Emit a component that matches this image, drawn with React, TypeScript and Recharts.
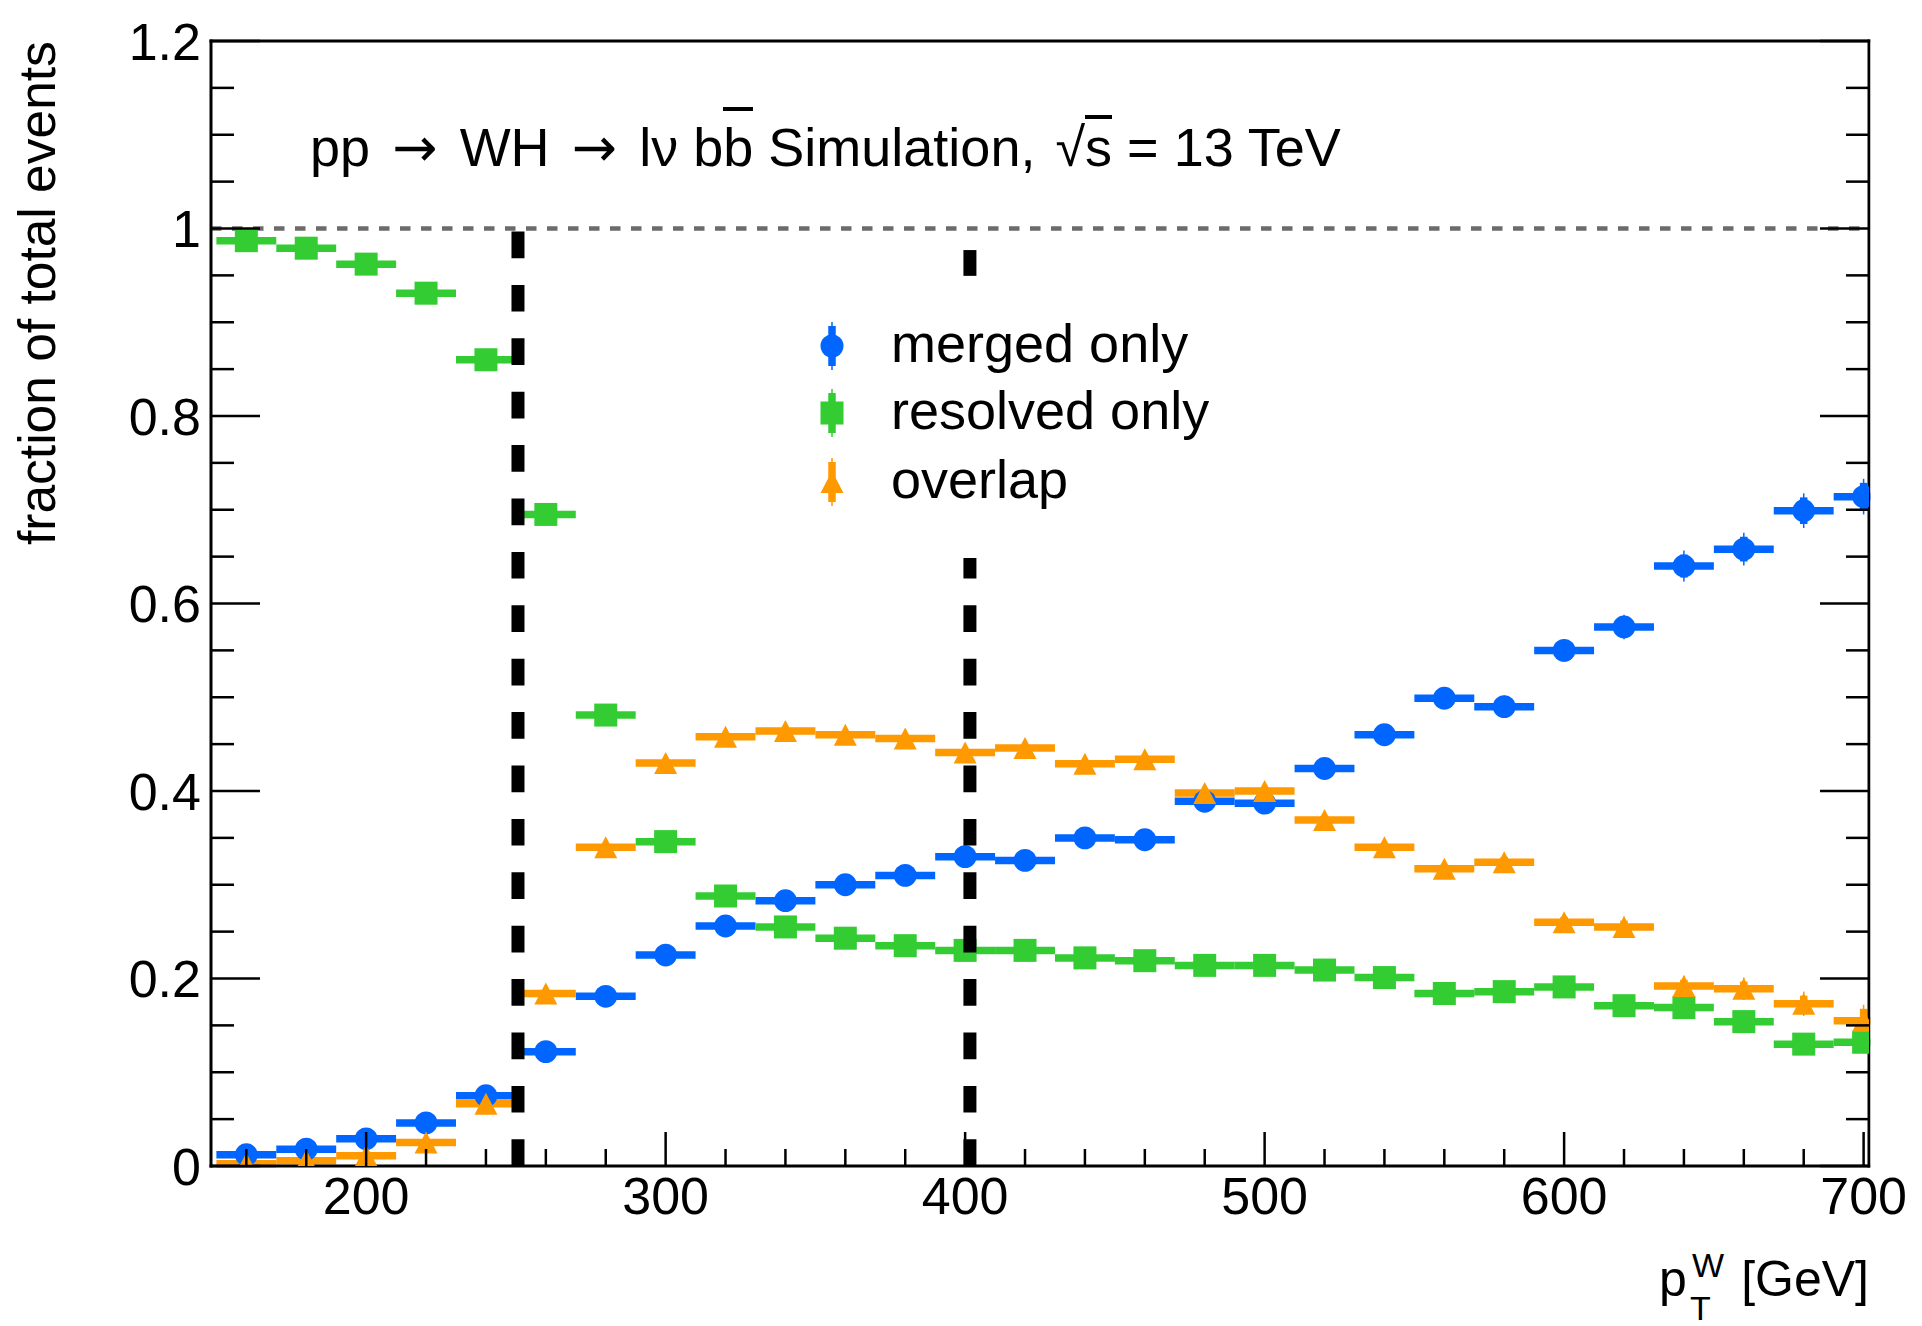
import React from 'react'
import {
  ComposedChart,
  Scatter,
  XAxis,
  YAxis,
  ErrorBar,
  ReferenceLine,
} from 'recharts'

// pT(W) bin centres, 20 GeV bins
const PT_BINS = [160, 180, 200, 220, 240, 260, 280, 300, 320, 340, 360, 380, 400, 420, 440, 460, 480, 500, 520, 540, 560, 580, 600, 620, 640, 660, 680, 700]
const BIN_HALF_WIDTH = 10

const MERGED = [0.012, 0.018, 0.029, 0.046, 0.075, 0.122, 0.181, 0.225, 0.256, 0.283, 0.3, 0.31, 0.33, 0.326, 0.35, 0.348, 0.389, 0.387, 0.424, 0.46, 0.499, 0.49, 0.55, 0.575, 0.64, 0.658, 0.699, 0.714]
const MERGED_ERR = [0.002, 0.003, 0.003, 0.004, 0.005, 0.006, 0.007, 0.007, 0.008, 0.008, 0.008, 0.009, 0.009, 0.009, 0.01, 0.01, 0.01, 0.011, 0.011, 0.011, 0.012, 0.012, 0.012, 0.013, 0.0165, 0.0175, 0.0185, 0.019]

const RESOLVED = [0.987, 0.979, 0.962, 0.931, 0.86, 0.695, 0.481, 0.346, 0.288, 0.255, 0.243, 0.235, 0.23, 0.23, 0.222, 0.219, 0.214, 0.214, 0.209, 0.201, 0.184, 0.186, 0.191, 0.171, 0.169, 0.154, 0.13, 0.132]
const RESOLVED_ERR = [0.001, 0.001, 0.002, 0.002, 0.003, 0.004, 0.005, 0.005, 0.005, 0.005, 0.006, 0.006, 0.006, 0.006, 0.007, 0.007, 0.007, 0.007, 0.008, 0.008, 0.008, 0.008, 0.009, 0.009, 0.009, 0.01, 0.01, 0.011]

const OVERLAP = [0.0025, 0.0057, 0.011, 0.025, 0.0665, 0.184, 0.34, 0.43, 0.458, 0.464, 0.46, 0.456, 0.441, 0.446, 0.429, 0.434, 0.398, 0.4, 0.369, 0.34, 0.317, 0.324, 0.26, 0.255, 0.192, 0.189, 0.173, 0.155]
const OVERLAP_ERR = [0.001, 0.001, 0.001, 0.002, 0.003, 0.004, 0.005, 0.006, 0.006, 0.006, 0.007, 0.007, 0.007, 0.007, 0.008, 0.008, 0.008, 0.008, 0.009, 0.009, 0.009, 0.01, 0.01, 0.011, 0.011, 0.012, 0.013, 0.017]

const X_TICKS = [160, 180, 200, 220, 240, 260, 280, 300, 320, 340, 360, 380, 400, 420, 440, 460, 480, 500, 520, 540, 560, 580, 600, 620, 640, 660, 680, 700]
const X_MAJOR = [200, 300, 400, 500, 600, 700]
const Y_TICKS = [0, 0.05, 0.1, 0.15, 0.2, 0.25, 0.3, 0.35, 0.4, 0.45, 0.5, 0.55, 0.6, 0.65, 0.7, 0.75, 0.8, 0.85, 0.9, 0.95, 1, 1.05, 1.1, 1.15, 1.2]
const Y_MAJOR = [0, 0.2, 0.4, 0.6, 0.8, 1, 1.2]

// pT thresholds of the two categories; each cut line is drawn as dashed
// pieces [y from, y to], the upper part of the second one sits behind the legend
const CUT_LINES = [
  { x: 250.7, pieces: [{ from: 0, to: 1, dashed: true }] },
  {
    x: 401.6,
    pieces: [
      { from: 0, to: 0.7, dashed: true },
      { from: 0.9495, to: 0.977, dashed: false },
    ],
  },
]

const LEGEND = [
  { label: 'merged only', color: '#0066ff', marker: 'circle' },
  { label: 'resolved only', color: '#33cc33', marker: 'square' },
  { label: 'overlap', color: '#ff9900', marker: 'triangle' },
]

const BLUE = '#0066ff'
const GREEN = '#33cc33'
const ORANGE = '#ff9900'
const FONT = '"Liberation Sans", Arial, Helvetica, sans-serif'

const toRows = (vals: number[], errs: number[]) =>
  PT_BINS.map((x, i) => ({ x, y: vals[i], xerr: BIN_HALF_WIDTH, yerr: errs[i] }))

const mergedRows = toRows(MERGED, MERGED_ERR)
const resolvedRows = toRows(RESOLVED, RESOLVED_ERR)
const overlapRows = toRows(OVERLAP, OVERLAP_ERR)

const W = 1922
const H = 1326
// each axis below is 1px thick, so the plot frame lands on x 211..1869, y 41..1166
const M = { top: 40, right: 52, bottom: 159, left: 210 }

const circleShape = (p: any) => <circle cx={p.cx} cy={p.cy} r={11.4} fill={BLUE} />
const squareShape = (p: any) => (
  <rect x={p.cx - 11.5} y={p.cy - 11.5} width={23} height={23} fill={GREEN} />
)
const triangleShape = (p: any) => (
  <path
    d={`M${p.cx - 11.5},${p.cy + 11} L${p.cx + 11.5},${p.cy + 11} L${p.cx},${p.cy - 11} Z`}
    fill={ORANGE}
  />
)

const thickPart = (d: any) => Math.max(d.yerr - 0.0043, 0)

const TICK_FONT = 52

const BottomTick = (p: any) => {
  const v = p.payload.value
  const major = X_MAJOR.includes(v)
  return (
    <g>
      <line x1={p.x} x2={p.x} y1={p.y} y2={p.y - (major ? 34 : 17)} stroke="#000" strokeWidth={2.5} />
      {major && (
        <text x={p.x} y={p.y + 48} textAnchor="middle" fontSize={TICK_FONT} fontFamily={FONT} fill="#000">
          {v}
        </text>
      )}
    </g>
  )
}

const TopTick = (p: any) => {
  const major = X_MAJOR.includes(p.payload.value)
  return <line x1={p.x} x2={p.x} y1={p.y} y2={p.y + (major ? 34 : 17)} stroke="#000" strokeWidth={2.5} />
}

const LeftTick = (p: any) => {
  const v = p.payload.value
  const major = Y_MAJOR.includes(v)
  return (
    <g>
      <line x1={p.x} x2={p.x + (major ? 49 : 23)} y1={p.y} y2={p.y} stroke="#000" strokeWidth={2.5} />
      {major && (
        <text x={p.x - 10} y={p.y + 18.5} textAnchor="end" fontSize={TICK_FONT} fontFamily={FONT} fill="#000">
          {String(v)}
        </text>
      )}
    </g>
  )
}

const RightTick = (p: any) => {
  const major = Y_MAJOR.includes(p.payload.value)
  return <line x1={p.x} x2={p.x - (major ? 49 : 23)} y1={p.y} y2={p.y} stroke="#000" strokeWidth={2.5} />
}

const frameLine = { stroke: '#000', strokeWidth: 3, strokeLinecap: 'square' as const }

function LegendMarker({ kind, color, cx, cy }: { kind: string; color: string; cx: number; cy: number }) {
  return (
    <g>
      <line x1={cx} x2={cx} y1={cy - 24} y2={cy + 24} stroke={color} strokeWidth={1.5} />
      <line x1={cx} x2={cx} y1={cy - 20} y2={cy + 20} stroke={color} strokeWidth={7.5} />
      {kind === 'circle' && <circle cx={cx} cy={cy} r={11.5} fill={color} />}
      {kind === 'square' && <rect x={cx - 11.5} y={cy - 11.5} width={23} height={23} fill={color} />}
      {kind === 'triangle' && (
        <path d={`M${cx - 11.5},${cy + 11} L${cx + 11.5},${cy + 11} L${cx},${cy - 11} Z`} fill={color} />
      )}
    </g>
  )
}

const overBar = (top: number) => ({
  position: 'absolute' as const,
  left: 0,
  right: 0,
  top,
  height: 4.5,
  background: '#000',
})

const arrow = { fontFamily: '"DejaVu Sans", sans-serif', margin: '0 5px' }

export default function App() {
  return (
    <div style={{ position: 'absolute', left: 0, top: 0, width: W, height: H, background: '#fff' }}>
      <ComposedChart width={W} height={H} margin={M}>
        <XAxis
          xAxisId="b"
          dataKey="x"
          type="number"
          domain={[148.2, 701.8]}
          allowDataOverflow
          ticks={X_TICKS}
          interval={0}
          height={1}
          tickSize={0}
          tickMargin={0}
          tickLine={false}
          axisLine={frameLine}
          tick={BottomTick}
        />
        <XAxis
          xAxisId="t"
          orientation="top"
          type="number"
          domain={[148.2, 701.8]}
          allowDataOverflow
          ticks={X_TICKS}
          interval={0}
          height={1}
          tickSize={0}
          tickMargin={0}
          tickLine={false}
          axisLine={frameLine}
          tick={TopTick}
        />
        <YAxis
          yAxisId="l"
          dataKey="y"
          type="number"
          domain={[0, 1.2]}
          allowDataOverflow
          ticks={Y_TICKS}
          interval={0}
          width={1}
          tickSize={0}
          tickMargin={0}
          tickLine={false}
          axisLine={frameLine}
          tick={LeftTick}
        />
        <YAxis
          yAxisId="r"
          orientation="right"
          type="number"
          domain={[0, 1.2]}
          allowDataOverflow
          ticks={Y_TICKS}
          interval={0}
          width={1}
          tickSize={0}
          tickMargin={0}
          tickLine={false}
          axisLine={frameLine}
          tick={RightTick}
        />

        <ReferenceLine
          xAxisId="b"
          yAxisId="l"
          y={1}
          stroke="#6b6b6b"
          strokeWidth={4.3}
          strokeDasharray="10.5 10.5"
        />

        <Scatter xAxisId="b" yAxisId="l" data={mergedRows} shape={circleShape} isAnimationActive={false}>
          <ErrorBar dataKey="xerr" direction="x" width={0} stroke={BLUE} strokeWidth={7.5} isAnimationActive={false} />
          <ErrorBar dataKey={thickPart} direction="y" width={0} stroke={BLUE} strokeWidth={7.5} isAnimationActive={false} />
          <ErrorBar dataKey="yerr" direction="y" width={0} stroke={BLUE} strokeWidth={1.5} isAnimationActive={false} />
        </Scatter>
        <Scatter xAxisId="b" yAxisId="l" data={resolvedRows} shape={squareShape} isAnimationActive={false}>
          <ErrorBar dataKey="xerr" direction="x" width={0} stroke={GREEN} strokeWidth={7.5} isAnimationActive={false} />
          <ErrorBar dataKey={thickPart} direction="y" width={0} stroke={GREEN} strokeWidth={7.5} isAnimationActive={false} />
          <ErrorBar dataKey="yerr" direction="y" width={0} stroke={GREEN} strokeWidth={1.5} isAnimationActive={false} />
        </Scatter>
        <Scatter xAxisId="b" yAxisId="l" data={overlapRows} shape={triangleShape} isAnimationActive={false}>
          <ErrorBar dataKey="xerr" direction="x" width={0} stroke={ORANGE} strokeWidth={7.5} isAnimationActive={false} />
          <ErrorBar dataKey={thickPart} direction="y" width={0} stroke={ORANGE} strokeWidth={7.5} isAnimationActive={false} />
          <ErrorBar dataKey="yerr" direction="y" width={0} stroke={ORANGE} strokeWidth={1.5} isAnimationActive={false} />
        </Scatter>

        {CUT_LINES.flatMap((c) =>
          c.pieces.map((piece) => (
            <ReferenceLine
              key={`${c.x}-${piece.from}`}
              xAxisId="b"
              yAxisId="l"
              segment={[
                { x: c.x, y: piece.from },
                { x: c.x, y: piece.to },
              ]}
              stroke="#000"
              strokeWidth={13}
              strokeDasharray={piece.dashed ? '26.7 26.7' : undefined}
              zIndex={700}
            />
          )),
        )}
      </ComposedChart>

      <svg
        width={W}
        height={H}
        style={{ position: 'absolute', left: 0, top: 0, pointerEvents: 'none' }}
        fontFamily={FONT}
      >
        {/* the last bin reaches past the frame: blank it out right of the axis */}
        <rect x={1870.5} y={30} width={W - 1870.5} height={1140} fill="#fff" />

        {/* legend box, opaque so the cut line stops behind it */}
        <rect x={800} y={280} width={430} height={278} fill="#fff" />
        {LEGEND.map((e, i) => {
          const cy = [346, 413, 482][i]
          return (
            <g key={e.label}>
              <LegendMarker kind={e.marker} color={e.color} cx={832} cy={cy} />
              <text x={891} y={cy + 16} fontSize={54} fill="#000">
                {e.label}
              </text>
            </g>
          )
        })}

        <text transform="translate(55,545) rotate(-90)" fontSize={51.5} fill="#000">
          fraction of total events
        </text>

        <text x={1659} y={1296} fontSize={50} fill="#000">p</text>
        <text x={1692} y={1277} fontSize={34} fill="#000">W</text>
        <text x={1690} y={1320} fontSize={34} fill="#000">T</text>
        <text x={1869} y={1296} fontSize={50} textAnchor="end" fill="#000">[GeV]</text>
      </svg>

      <div
        style={{
          position: 'absolute',
          left: 310,
          top: 119.8,
          fontFamily: FONT,
          fontSize: 54,
          lineHeight: '54px',
          whiteSpace: 'nowrap',
          color: '#000',
        }}
      >
        pp<span style={arrow}> → </span>WH<span style={arrow}> → </span>lν b
        <span style={{ position: 'relative', display: 'inline-block' }}>
          b<span style={overBar(-13.3)} />
        </span>
        {' '}Simulation,<span style={{ marginLeft: 5 }}> √</span>
        <span style={{ position: 'relative', display: 'inline-block' }}>
          s<span style={overBar(-5)} />
        </span>
        {' '}= 13 TeV
      </div>
    </div>
  )
}
